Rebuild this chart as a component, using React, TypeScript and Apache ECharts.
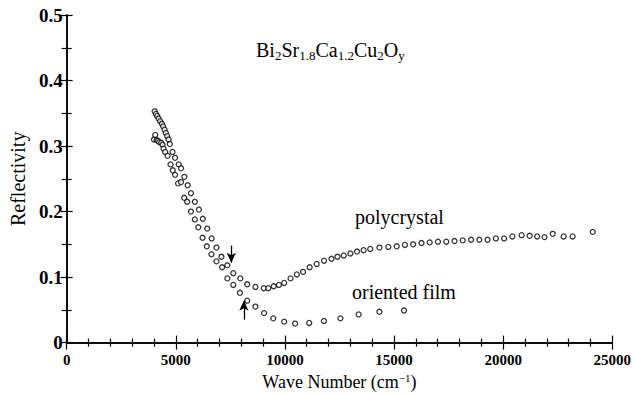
import React, { useEffect, useRef } from "react";
import * as echarts from "echarts";

// Polycrystal reflectivity: [wave number (cm^-1), reflectivity]
const polycrystal: [number, number][] = [
  [4032, 0.353], [4091, 0.349], [4150, 0.346], [4214, 0.342], [4286, 0.338],
  [4364, 0.334], [4423, 0.330], [4486, 0.325], [4545, 0.320], [4605, 0.315],
  [4668, 0.310], [4727, 0.303], [4850, 0.291], [4968, 0.282], [5136, 0.272],
  [5241, 0.266], [5395, 0.253], [5545, 0.240], [5695, 0.228], [5873, 0.215],
  [6059, 0.203], [6241, 0.189], [6441, 0.174], [6645, 0.159], [6864, 0.145],
  [7091, 0.131], [7364, 0.118], [7636, 0.106], [7955, 0.098], [8273, 0.089],
  [8650, 0.085], [9032, 0.083], [9241, 0.083], [9486, 0.086], [9727, 0.088],
  [9968, 0.091], [10259, 0.098], [10545, 0.104], [10832, 0.108], [11136, 0.115],
  [11455, 0.120], [11795, 0.125], [12136, 0.128], [12409, 0.131], [12695, 0.133],
  [13000, 0.136], [13305, 0.139], [13605, 0.141], [13909, 0.143], [14332, 0.145],
  [14741, 0.146], [15123, 0.147], [15500, 0.149], [15877, 0.150], [16259, 0.152],
  [16636, 0.153], [17014, 0.154], [17395, 0.154], [17773, 0.155], [18150, 0.156],
  [18532, 0.157], [18909, 0.157], [19286, 0.157], [19668, 0.159], [20045, 0.159],
  [20423, 0.162], [20850, 0.164], [21214, 0.163], [21559, 0.162], [21895, 0.161],
  [22273, 0.166], [22773, 0.162], [23182, 0.162], [24105, 0.169],
];

// Oriented film reflectivity: [wave number (cm^-1), reflectivity]
const orientedFilm: [number, number][] = [
  [4000, 0.310], [4059, 0.317], [4123, 0.309], [4182, 0.308], [4241, 0.306],
  [4332, 0.305], [4395, 0.302], [4441, 0.296], [4514, 0.291], [4623, 0.285],
  [4759, 0.272], [4864, 0.263], [4968, 0.256], [5105, 0.243], [5241, 0.245],
  [5386, 0.221], [5523, 0.215], [5695, 0.200], [5873, 0.188], [6032, 0.176],
  [6227, 0.160], [6423, 0.147], [6636, 0.135], [6864, 0.124], [7123, 0.115],
  [7364, 0.098], [7636, 0.088], [7941, 0.076], [8273, 0.064], [8650, 0.055],
  [9045, 0.045], [9468, 0.037], [9968, 0.032], [10468, 0.029], [11114, 0.030],
  [11786, 0.033], [12545, 0.037], [13377, 0.043], [14332, 0.047], [15455, 0.049],
];

// Arrows marking the edge on each curve: [x, yFrom, yTo]
const downArrow = [7545, 0.148, 0.122];
const upArrow = [8121, 0.035, 0.064];

const X_TICKS = [0, 5000, 10000, 15000, 20000, 25000];
const Y_TICKS = [0, 0.1, 0.2, 0.3, 0.4, 0.5];

const SERIF = "Liberation Serif";

export default function App() {
  const ref = useRef<HTMLDivElement>(null);

  useEffect(() => {
    if (!ref.current) return;
    const chart = echarts.init(ref.current, undefined, { renderer: "svg" });

    const axisLine = { show: true, lineStyle: { color: "#000", width: 1.5 } };
    const tickStyle = { color: "#000", width: 1.2 };

    const circle = {
      type: "scatter" as const,
      symbol: "circle",
      symbolSize: 5,
      itemStyle: { color: "#fff", borderColor: "#000", borderWidth: 1.3 },
      silent: true,
    };

    const arrowLine = (a: number[]) => [
      { coord: [a[0], a[1]] },
      { coord: [a[0], a[2]] },
    ];

    chart.setOption({
      animation: false,
      backgroundColor: "#fff",
      grid: { left: 64, right: 20, top: 15, bottom: 47 },
      title: {
        text: "Bi{s|2}Sr{s|1.8}Ca{s|1.2}Cu{s|2}O{s|y}",
        left: 251,
        top: 33,
        textStyle: {
          fontFamily: SERIF,
          fontSize: 20,
          fontWeight: "normal",
          color: "#000",
          lineHeight: 24,
          rich: {
            s: {
              fontFamily: SERIF,
              fontSize: 13,
              color: "#000",
              verticalAlign: "bottom",
              lineHeight: 16,
              padding: [6, 0, 0, 0],
            },
          },
        },
      },
      xAxis: [
        {
          type: "value",
          min: X_TICKS[0],
          max: X_TICKS[X_TICKS.length - 1],
          interval: 5000,
          position: "bottom",
          axisLine,
          axisTick: { show: true, inside: true, length: 7, lineStyle: tickStyle },
          minorTick: { show: true, splitNumber: 5, length: 4, lineStyle: tickStyle },
          splitLine: { show: false },
          axisLabel: {
            fontFamily: SERIF,
            fontSize: 15,
            fontWeight: "bold",
            color: "#000",
            margin: 10,
            formatter: (v: number) => String(v),
          },
          name: "Wave Number (cm{sup|−1})",
          nameLocation: "middle",
          nameGap: 26,
          nameTextStyle: {
            fontFamily: SERIF,
            fontSize: 18,
            color: "#000",
            rich: {
              sup: {
                fontFamily: SERIF,
                fontSize: 11,
                color: "#000",
                verticalAlign: "top",
                padding: [0, 0, 8, 0],
              },
            },
          },
        },
        {
          type: "value",
          min: X_TICKS[0],
          max: X_TICKS[X_TICKS.length - 1],
          interval: 5000,
          position: "top",
          axisLine,
          axisTick: { show: true, inside: true, length: 7, lineStyle: tickStyle },
          minorTick: { show: true, splitNumber: 5, length: 4, lineStyle: tickStyle },
          splitLine: { show: false },
          axisLabel: { show: false },
        },
      ],
      yAxis: [
        {
          type: "value",
          min: Y_TICKS[0],
          max: Y_TICKS[Y_TICKS.length - 1],
          interval: 0.1,
          position: "left",
          axisLine,
          axisTick: { show: true, inside: true, length: 6, lineStyle: tickStyle },
          minorTick: { show: true, splitNumber: 2, length: 5, lineStyle: tickStyle },
          splitLine: { show: false },
          axisLabel: {
            fontFamily: SERIF,
            fontSize: 19,
            fontWeight: "bold",
            color: "#000",
            margin: 4,
            formatter: (v: number) => (v === 0 ? "0" : v.toFixed(1)),
          },
          name: "Reflectivity",
          nameLocation: "middle",
          nameGap: 38,
          nameTextStyle: { fontFamily: SERIF, fontSize: 20, color: "#000" },
        },
        {
          type: "value",
          min: Y_TICKS[0],
          max: Y_TICKS[Y_TICKS.length - 1],
          interval: 0.1,
          position: "right",
          axisLine,
          axisTick: { show: true, inside: true, length: 6, lineStyle: tickStyle },
          minorTick: { show: true, splitNumber: 2, length: 5, lineStyle: tickStyle },
          splitLine: { show: false },
          axisLabel: { show: false },
        },
      ],
      graphic: [
        {
          type: "text",
          left: 355,
          top: 207,
          style: { text: "polycrystal", fontFamily: SERIF, fontSize: 20, fill: "#000" },
        },
        {
          type: "text",
          left: 352,
          top: 282,
          style: { text: "oriented film", fontFamily: SERIF, fontSize: 20, fill: "#000" },
        },
      ],
      series: [
        { ...circle, name: "polycrystal", data: polycrystal },
        { ...circle, name: "oriented film", data: orientedFilm },
        {
          type: "line",
          data: [],
          silent: true,
          markLine: {
            silent: true,
            symbol: ["none", "arrow"],
            symbolSize: [7, 10],
            label: { show: false },
            lineStyle: { color: "#000", width: 1.3, type: "solid" },
            data: [arrowLine(downArrow), arrowLine(upArrow)],
          },
        },
      ],
    });

    return () => chart.dispose();
  }, []);

  return (
    <div
      ref={ref}
      style={{ position: "fixed", left: 0, top: 0, width: 634, height: 396, background: "#fff" }}
    />
  );
}
